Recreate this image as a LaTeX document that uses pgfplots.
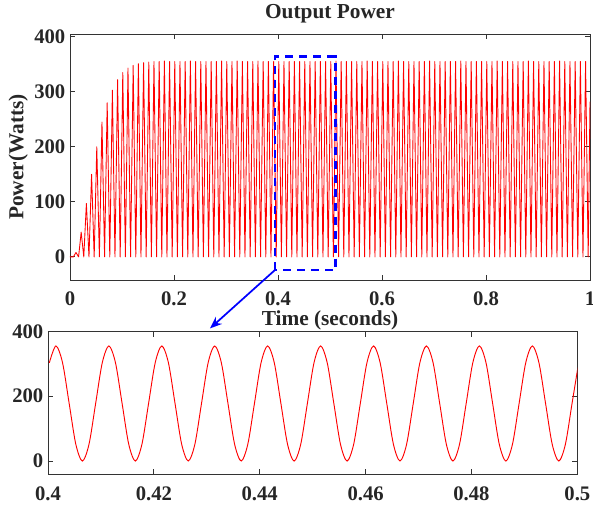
\documentclass[border=0pt]{standalone}
\usepackage{fontspec}
\setmainfont{Liberation Serif}
\usepackage{pgfplots}
\pgfplotsset{compat=1.18}
\usetikzlibrary{arrows.meta}

\pgfplotsset{
  every axis/.append style={
    scale only axis,
    axis line style={black!80, line width=0.6pt},
    tick style={black!80, line width=0.6pt},
    major tick length=4pt,
    tick align=inside,
    /pgf/number format/assume math mode=true,
    tick label style={font=\bfseries\fontsize{15.5}{15.5}\selectfont, text=black!85},
    label style={font=\bfseries\fontsize{16}{16}\selectfont, text=black!85},
    title style={font=\bfseries\fontsize{16}{16}\selectfont, text=black!85},
  },
}

\begin{document}
\begin{tikzpicture}
\useasboundingbox (-52.5pt,-168pt) rectangle (392.25pt,210pt);

% top: whole run
\begin{axis}[
  width=390pt, height=184.5pt,
  xmin=0, xmax=1, ymin=-42, ymax=405,
  xtick={0,0.2,0.4,0.6,0.8,1},
  xticklabels={0,0.2,0.4,0.6,0.8,1},
  ytick={0,100,200,300,400},
  title={Output Power},
  title style={yshift=-1pt},
  xlabel={Time (seconds)},
  ylabel={Power(Watts)},
  xlabel style={yshift=3pt},
  ylabel style={yshift=-2pt},
  xticklabel style={yshift=-5pt},
]
\addplot[red, line width=0.65pt, line join=round, mark=none] coordinates {
(0,0)(0.0015,0)(0.0065,0)(0.0115,8)(0.0165,0)(0.0215,45)(0.0265,0)(0.0315,97)(0.0365,0)
(0.0415,150)(0.0465,0)(0.0515,200)(0.0565,0)(0.0615,245)(0.0665,0)(0.0715,280)(0.0765,0)
(0.0815,303)(0.0865,0)(0.0915,322)(0.0965,0)(0.1015,335)(0.1065,0)(0.1115,343)(0.1165,0)
(0.1215,348)(0.1265,0)(0.1315,351)(0.1365,0)(0.1415,353)(0.1465,0)(0.1515,354)(0.1565,0)
(0.1615,355)(0.1665,0)(0.1715,355)(0.1765,0)(0.1815,356)(0.1865,0)(0.1915,355)(0.1965,0)
(0.2015,355)(0.2065,0)(0.2115,355)(0.2165,0)(0.2215,355)(0.2265,0)(0.2315,356)(0.2365,0)(0.2415,355)(0.2465,0)
(0.2515,355)(0.2565,0)(0.2615,355)(0.2665,0)(0.2715,355)(0.2765,0)(0.2815,355)(0.2865,0)(0.2915,356)(0.2965,0)
(0.3015,355)(0.3065,0)(0.3115,355)(0.3165,0)(0.3215,356)(0.3265,0)(0.3315,355)(0.3365,0)(0.3415,355)(0.3465,0)
(0.3515,355)(0.3565,0)(0.3615,356)(0.3665,0)(0.3715,355)(0.3765,0)(0.3815,355)(0.3865,0)(0.3915,355)(0.3965,0)
(0.4015,355)(0.4065,0)(0.4115,355)(0.4165,0)(0.4215,355)(0.4265,0)(0.4315,355)(0.4365,0)(0.4415,355)(0.4465,0)
(0.4515,355)(0.4565,0)(0.4615,355)(0.4665,0)(0.4715,355)(0.4765,0)(0.4815,355)(0.4865,0)(0.4915,355)(0.4965,0)
(0.5015,355)(0.5065,0)(0.5115,356)(0.5165,0)(0.5215,355)(0.5265,0)(0.5315,355)(0.5365,0)(0.5415,355)(0.5465,0)
(0.5515,355)(0.5565,0)(0.5615,355)(0.5665,0)(0.5715,356)(0.5765,0)(0.5815,355)(0.5865,0)(0.5915,355)(0.5965,0)
(0.6015,355)(0.6065,0)(0.6115,355)(0.6165,0)(0.6215,355)(0.6265,0)(0.6315,356)(0.6365,0)(0.6415,355)(0.6465,0)
(0.6515,355)(0.6565,0)(0.6615,355)(0.6665,0)(0.6715,355)(0.6765,0)(0.6815,355)(0.6865,0)(0.6915,356)(0.6965,0)
(0.7015,355)(0.7065,0)(0.7115,355)(0.7165,0)(0.7215,355)(0.7265,0)(0.7315,355)(0.7365,0)(0.7415,355)(0.7465,0)
(0.7515,356)(0.7565,0)(0.7615,355)(0.7665,0)(0.7715,355)(0.7765,0)(0.7815,355)(0.7865,0)(0.7915,355)(0.7965,0)
(0.8015,355)(0.8065,0)(0.8115,355)(0.8165,0)(0.8215,356)(0.8265,0)(0.8315,355)(0.8365,0)(0.8415,355)(0.8465,0)
(0.8515,355)(0.8565,0)(0.8615,355)(0.8665,0)(0.8715,355)(0.8765,0)(0.8815,356)(0.8865,0)(0.8915,355)(0.8965,0)
(0.9015,355)(0.9065,0)(0.9115,355)(0.9165,0)(0.9215,355)(0.9265,0)(0.9315,355)(0.9365,0)(0.9415,356)(0.9465,0)
(0.9515,355)(0.9565,0)(0.9615,355)(0.9665,0)(0.9715,355)(0.9765,0)(0.9815,355)(0.9865,0)(0.9915,355)(0.9965,0)
(1,282)
};
% zoom window
\draw[blue, line width=2pt, dash pattern=on 6pt off 4.5pt]
  (axis cs:0.394,-24) rectangle (axis cs:0.51,364);
\coordinate (zoomcorner) at (axis cs:0.394,-24);
\end{axis}

% bottom: detail 0.4 - 0.5 s
\begin{axis}[
  at={(-16.5pt,-145.5pt)}, anchor=south west,
  width=397pt, height=107pt,
  xmin=0.4, xmax=0.5, ymin=-40, ymax=400,
  xtick={0.4,0.42,0.44,0.46,0.48,0.5},
  xticklabels={0.4,0.42,0.44,0.46,0.48,0.5},
  ytick={0,200,400},
  xticklabel style={yshift=-6pt},
]
\addplot[red, line width=0.7pt, smooth, mark=none] coordinates {
(0.40025,303)
(0.4015,355)(0.40275,303)(0.404,177.5)(0.40525,52)(0.4065,0)(0.40775,52)(0.409,177.5)(0.41025,303)
(0.4115,355)(0.41275,303)(0.414,177.5)(0.41525,52)(0.4165,0)(0.41775,52)(0.419,177.5)(0.42025,303)
(0.4215,355)(0.42275,303)(0.424,177.5)(0.42525,52)(0.4265,0)(0.42775,52)(0.429,177.5)(0.43025,303)
(0.4315,355)(0.43275,303)(0.434,177.5)(0.43525,52)(0.4365,0)(0.43775,52)(0.439,177.5)(0.44025,303)
(0.4415,355)(0.44275,303)(0.444,177.5)(0.44525,52)(0.4465,0)(0.44775,52)(0.449,177.5)(0.45025,303)
(0.4515,355)(0.45275,303)(0.454,177.5)(0.45525,52)(0.4565,0)(0.45775,52)(0.459,177.5)(0.46025,303)
(0.4615,355)(0.46275,303)(0.464,177.5)(0.46525,52)(0.4665,0)(0.46775,52)(0.469,177.5)(0.47025,303)
(0.4715,355)(0.47275,303)(0.474,177.5)(0.47525,52)(0.4765,0)(0.47775,52)(0.479,177.5)(0.48025,303)
(0.4815,355)(0.48275,303)(0.484,177.5)(0.48525,52)(0.4865,0)(0.48775,52)(0.489,177.5)(0.49025,303)
(0.4915,355)(0.49275,303)(0.494,177.5)(0.49525,52)(0.4965,0)(0.49775,52)(0.499,177.5)(0.50025,303)
};
\coordinate (zoomtarget) at (axis cs:0.4306,409);
\end{axis}

\draw[blue, line width=1.3pt, -{Stealth[length=9pt,width=7pt]}] (zoomcorner) -- (zoomtarget);
\end{tikzpicture}
\end{document}
